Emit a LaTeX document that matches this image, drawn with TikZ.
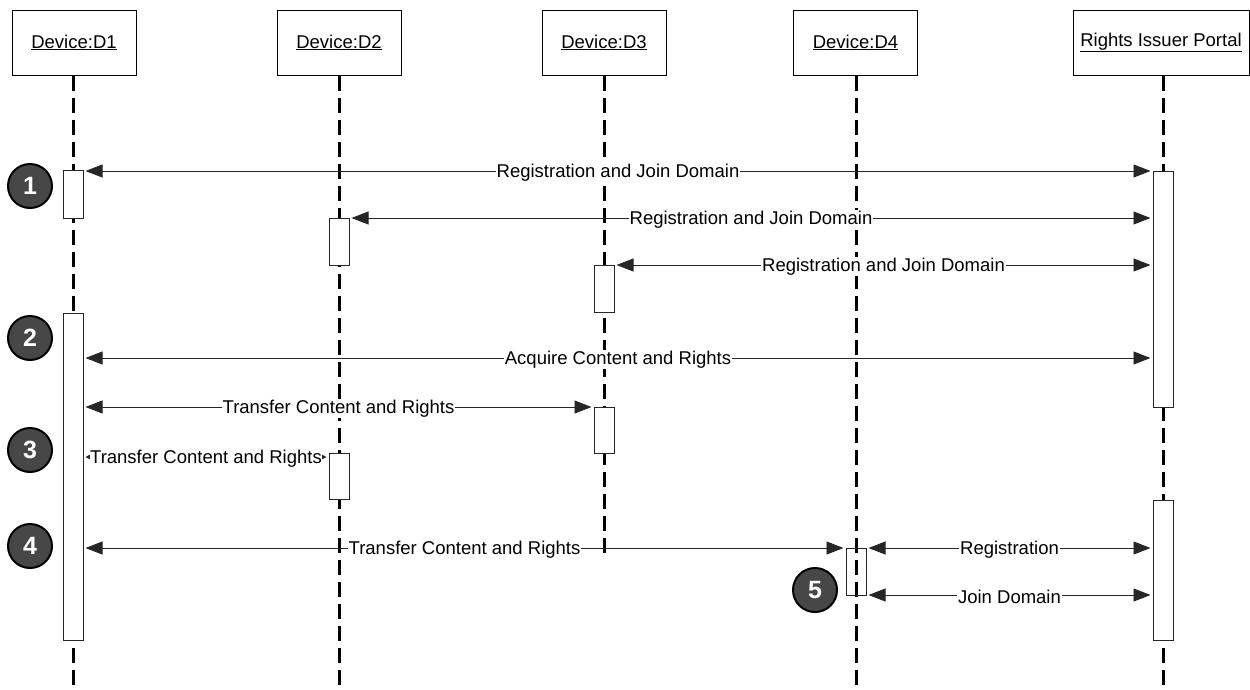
\documentclass[tikz,border=0pt]{standalone}
\usepackage{fontspec}
\setmainfont{Liberation Sans}
\usetikzlibrary{arrows.meta}
\begin{document}
\begin{tikzpicture}[x=1pt,y=-1pt,
  every node/.style={font=\fontsize{18.5}{21}\selectfont},
  head/.style={draw=black, line width=1pt, minimum width=124pt, minimum height=65pt, inner sep=0pt, anchor=center, fill=white},
  life/.style={line width=3pt, dash pattern=on 15pt off 7pt, black},
  act/.style={draw=black!85, line width=1pt, fill=white, minimum width=20pt, inner sep=0pt, anchor=north},
  actopen/.style={draw=black!85, line width=1pt, minimum width=20pt, inner sep=0pt, anchor=north},
  msg/.style={draw=black!85, line width=0.9pt, {Triangle[length=17pt,width=13pt]}-{Triangle[length=17pt,width=13pt]}, shorten <=2pt, shorten >=2pt},
  msgsmall/.style={draw=black!85, line width=0.9pt, {Triangle[length=5pt,width=5pt]}-{Triangle[length=5pt,width=5pt]}, shorten <=2pt, shorten >=2pt},
  lbl/.style={fill=white, inner sep=1pt, midway, yshift=-1.5pt},
  num/.style={circle, draw=black, line width=2pt, fill=black!72, text=white, minimum size=44pt, inner sep=0pt, font=\fontsize{25}{25}\selectfont\bfseries},
]
\useasboundingbox (0,0) rectangle (1250,689);

% header boxes
\node[head] (h1) at (74,42.5) {\underline{Device:D1}};
\node[head] (h2) at (339,42.5) {\underline{Device:D2}};
\node[head] (h3) at (604,42.5) {\underline{Device:D3}};
\node[head] (h4) at (855.5,42.5) {\underline{Device:D4}};
\node[head, minimum width=176pt] (h5) at (1161,42.5) {\underline{Rights Issuer Portal}};

% lifeline ends
\coordinate (e1) at (73,689);
\coordinate (e2) at (339,689);
\coordinate (e3) at (604,558);
\coordinate (e4) at (856,689);
\coordinate (e5) at (1163,689);

\draw[life] (h1.south -| e1) -- (e1);
\draw[life] (h2.south -| e2) -- (e2);
\draw[life] (h3.south -| e3) -- (e3);
\draw[life] (h4.south -| e4) -- (e4);
\draw[life] (h5.south -| e5) -- (e5);

% activation boxes
\node[act, minimum height=48pt] (a1) at (73,170) {};
\node[act, minimum height=47pt] (a2) at (339,218) {};
\node[act, minimum height=47pt] (a3) at (604,265) {};
\node[act, minimum height=236pt] (r1) at (1163,171) {};
\node[act, minimum height=327pt] (b1) at (73,313) {};
\node[act, minimum height=46pt] (b3) at (604,407) {};
\node[act, minimum height=46pt] (b2) at (339,453) {};
\node[actopen, minimum height=47pt] (b4) at (856,548) {};
\node[act, minimum height=140pt] (r2) at (1163,500) {};

% message heights
\coordinate (y1) at (0,171);
\coordinate (y2) at (0,218);
\coordinate (y3) at (0,265);
\coordinate (y4) at (0,358);
\coordinate (y5) at (0,407);
\coordinate (y6) at (0,457);
\coordinate (y7) at (0,548);
\coordinate (y8) at (0,595);

\draw[msg] (a1.east |- y1) -- node[lbl]{Registration and Join Domain} (r1.west |- y1);
\draw[msg] (a2.east |- y2) -- node[lbl]{Registration and Join Domain} (r1.west |- y2);
\draw[msg] (a3.east |- y3) -- node[lbl]{Registration and Join Domain} (r1.west |- y3);
\draw[msg] (b1.east |- y4) -- node[lbl]{Acquire Content and Rights} (r1.west |- y4);
\draw[msg] (b1.east |- y5) -- node[lbl]{Transfer Content and Rights} (b3.west |- y5);
\draw[msgsmall] (b1.east |- y6) -- node[lbl, inner sep=0pt]{Transfer Content and Rights} (b2.west |- y6);
\draw[msg] (b1.east |- y7) -- node[lbl]{Transfer Content and Rights} (b4.west |- y7);
\draw[msg] (b4.east |- y7) -- node[lbl]{Registration} (r2.west |- y7);
\draw[msg] (b4.east |- y8) -- node[lbl]{Join Domain} (r2.west |- y8);

% step numbers
\node[num] (n1) at (30,186) {1};
\node[num] (n2) at (30,338) {2};
\node[num] (n3) at (30,450) {3};
\node[num] (n4) at (30,546) {4};
\node[num] (n5) at (815,590) {5};
\end{tikzpicture}
\end{document}
